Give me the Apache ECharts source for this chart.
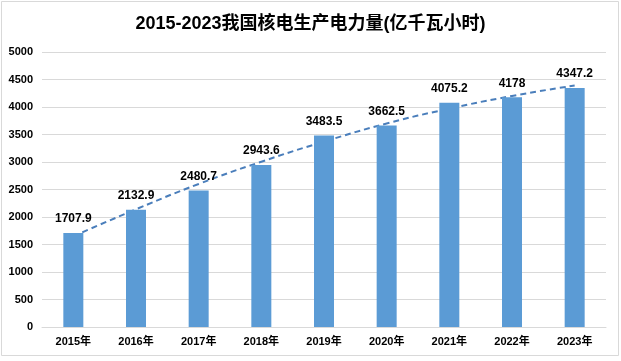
<!DOCTYPE html>
<html><head><meta charset="utf-8">
<script src="https://cdn.jsdelivr.net/npm/echarts@6/dist/echarts.min.js"></script>
<style>html,body{margin:0;padding:0;background:#fff}#c{width:621px;height:361px}</style>
</head><body><div id="c"></div>
<script>
const categories = ['2015年','2016年','2017年','2018年','2019年','2020年','2021年','2022年','2023年'];
const values = [1707.9, 2132.9, 2480.7, 2943.6, 3483.5, 3662.5, 4075.2, 4178, 4347.2];
const trendValues = [1650, 2140, 2600, 3005, 3370, 3700, 3970, 4200, 4390];
const titleText = '2015-2023我国核电生产电力量(亿千瓦小时)';
const FONT = '"Liberation Sans","Noto Sans CJK SC",sans-serif';

const chart = echarts.init(document.getElementById('c'));
chart.setOption({
  animation: false,
  backgroundColor: '#fff',
  graphic: [{type:'rect', shape:{x:1.5,y:1.5,width:617,height:354}, style:{fill:'none', stroke:'#d9d9d9', lineWidth:1}, z:-1}],
  title: {text: titleText, left: 'center', top: 10,
    textStyle: {fontSize: 18, fontWeight: 'bold', color: '#000', fontFamily: FONT}},
  grid: {left: 42, right: 15, top: 52, bottom: 34},
  xAxis: {type: 'category', data: categories,
    axisLine: {lineStyle: {color: '#d9d9d9'}}, axisTick: {show: false},
    axisLabel: {color: '#000', fontWeight: 'bold', fontSize: 11, fontFamily: FONT, margin: 9}},
  yAxis: {type: 'value', min: 0, max: 5000, interval: 500,
    axisLine: {show: false}, axisTick: {show: false},
    splitLine: {lineStyle: {color: '#d9d9d9'}},
    axisLabel: {color: '#000', fontWeight: 'bold', fontSize: 11, fontFamily: FONT, margin: 9,
      formatter: v => String(v)}},
  series: [
    {type: 'line', data: trendValues, smooth: true, symbol: 'none', z: 1,
      lineStyle: {color: '#4a7ebb', width: 2, type: [6, 4]}},
    {type: 'bar', data: values, barWidth: 20, z: 2,
      itemStyle: {color: '#5b9bd5'},
      label: {show: true, position: 'top', distance: 8, color: '#000', fontWeight: 'bold', fontSize: 12, fontFamily: FONT}}
  ]
});
</script></body></html>
